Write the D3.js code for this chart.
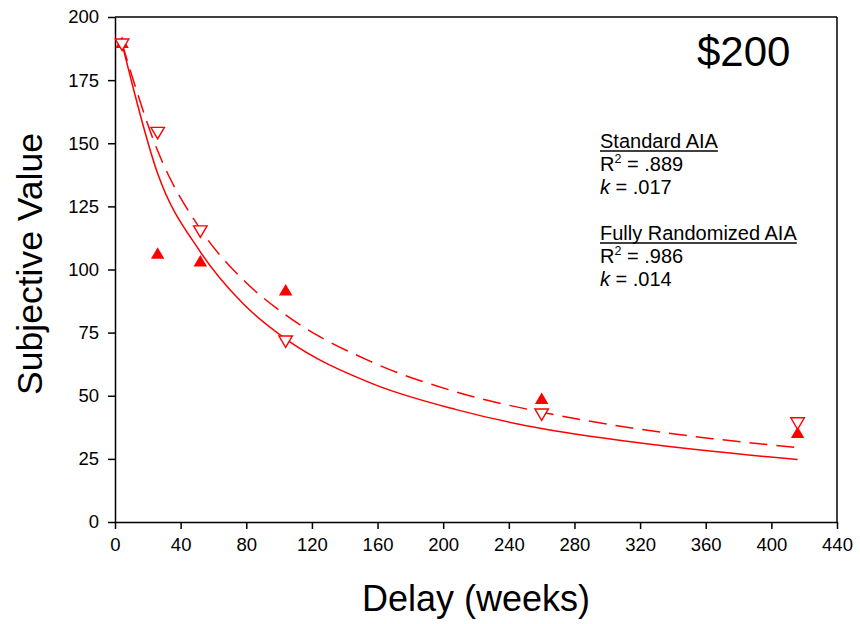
<!DOCTYPE html>
<html>
<head>
<meta charset="utf-8">
<script src="https://cdn.jsdelivr.net/npm/d3@7"></script>
<style>
  body { margin: 0; background: #fff; }
  svg { display: block; font-family: "Liberation Sans", Arial, sans-serif; }
  .axis path, .axis line { stroke: #000; stroke-width: 1.5; }
  .axis text { font-size: 18.5px; fill: #000; }
</style>
</head>
<body>
<svg id="chart" width="860" height="624"></svg>
<script>
// delays in weeks
const delays = [4.3, 26, 52, 104, 260, 416];
const standardAIA = [190, 106.5, 103.5, 92, 49, 35.5];
const randomizedAIA = [189, 154, 115, 71.4, 42.5, 39];

// fitted hyperbolic curves
const fitDelays = [4.3, 26, 52, 78, 104, 156, 208, 260, 312, 364, 416];
const standardFit = [189.5, 138, 107, 86.5, 72.5, 55, 44.5, 37, 32, 28, 24.7];
const randomizedFit = [189.5, 147, 116, 96, 82, 63.5, 51.5, 43.5, 37.5, 33, 29.5];

const xTicks = [0, 40, 80, 120, 160, 200, 240, 280, 320, 360, 400, 440];
const yTicks = [0, 25, 50, 75, 100, 125, 150, 175, 200];

const margin = { top: 17, right: 23, bottom: 102, left: 115 };
const width = 860 - margin.left - margin.right;
const height = 624 - margin.top - margin.bottom;

const svg = d3.select('#chart');
const g = svg.append('g').attr('transform', `translate(${margin.left},${margin.top})`);

const x = d3.scaleLinear().domain([0, 440]).range([0, width]);
const y = d3.scaleLinear().domain([0, 200]).range([height, 0]);

// frame (top and right)
g.append('line').attr('x1', 0).attr('x2', width).attr('y1', 0).attr('y2', 0)
  .attr('stroke', '#000').attr('stroke-width', 1.5);
g.append('line').attr('x1', width).attr('x2', width).attr('y1', 0).attr('y2', height)
  .attr('stroke', '#000').attr('stroke-width', 1.5);

g.append('g').attr('class', 'axis')
  .attr('transform', `translate(0,${height})`)
  .call(d3.axisBottom(x).tickValues(xTicks).tickSize(7).tickPadding(9).tickSizeOuter(0));

g.append('g').attr('class', 'axis')
  .call(d3.axisLeft(y).tickValues(yTicks).tickSize(7).tickPadding(9).tickSizeOuter(0));

// fit lines
const line = d3.line().x((d, i) => x(fitDelays[i])).y(d => y(d)).curve(d3.curveMonotoneX);

g.append('path').datum(standardFit)
  .attr('d', line).attr('fill', 'none')
  .attr('stroke', '#ff0000').attr('stroke-width', 1.5);

g.append('path').datum(randomizedFit)
  .attr('d', line).attr('fill', 'none')
  .attr('stroke', '#ff0000').attr('stroke-width', 1.5)
  .attr('stroke-dasharray', '18,9');

// markers
const tw = 13.5, th = 11.5;
const upTri = `M0,${-th / 2}L${tw / 2},${th / 2}L${-tw / 2},${th / 2}Z`;
const downTri = `M0,${th / 2}L${tw / 2},${-th / 2}L${-tw / 2},${-th / 2}Z`;

g.selectAll('.filled').data(standardAIA).enter().append('path')
  .attr('class', 'filled')
  .attr('d', upTri)
  .attr('transform', (d, i) => `translate(${x(delays[i])},${y(d)})`)
  .attr('fill', '#ff0000');

g.selectAll('.open').data(randomizedAIA).enter().append('path')
  .attr('class', 'open')
  .attr('d', downTri)
  .attr('transform', (d, i) => `translate(${x(delays[i])},${y(d)})`)
  .attr('fill', '#fff')
  .attr('stroke', '#ff0000').attr('stroke-width', 1.4);

// axis titles
svg.append('text')
  .attr('x', margin.left + width / 2).attr('y', 611)
  .attr('text-anchor', 'middle')
  .style('font-size', '36px')
  .text('Delay (weeks)');

svg.append('text')
  .attr('transform', 'translate(42,264) rotate(-90)')
  .attr('text-anchor', 'middle')
  .style('font-size', '35.5px')
  .text('Subjective Value');

svg.append('text')
  .attr('x', 697).attr('y', 66)
  .style('font-size', '42px')
  .text('$200');

// fit annotations
function block(title, r2, k, top) {
  const t = svg.append('text').attr('x', 600).attr('y', top)
    .style('font-size', '20px').text(title);
  const w = t.node().getComputedTextLength();
  svg.append('line').attr('x1', 600).attr('x2', 600 + w)
    .attr('y1', top + 3).attr('y2', top + 3)
    .attr('stroke', '#000').attr('stroke-width', 1.5);

  const r = svg.append('text').attr('x', 600).attr('y', top + 23).style('font-size', '20px');
  r.append('tspan').text('R');
  r.append('tspan').attr('dy', -8).style('font-size', '12.5px').text('2');
  r.append('tspan').attr('dy', 8).text(' = ' + r2);

  const kt = svg.append('text').attr('x', 600).attr('y', top + 46).style('font-size', '20px');
  kt.append('tspan').style('font-style', 'italic').text('k');
  kt.append('tspan').text(' = ' + k);
}

block('Standard AIA', '.889', '.017', 148);
block('Fully Randomized AIA', '.986', '.014', 240);
</script>
</body>
</html>
